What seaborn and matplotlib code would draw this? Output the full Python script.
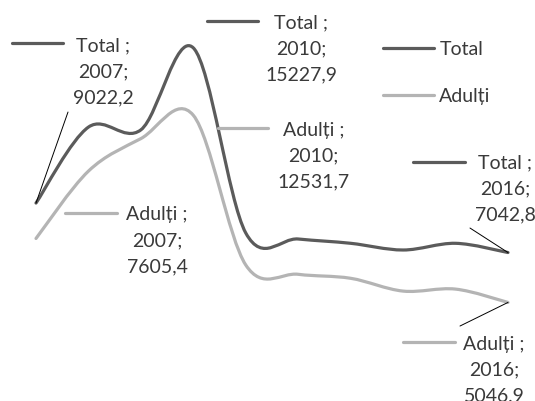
import matplotlib
matplotlib.use("Agg")
import matplotlib.pyplot as plt
from matplotlib.path import Path
from matplotlib.patches import PathPatch
from matplotlib.lines import Line2D
from matplotlib.transforms import IdentityTransform
import seaborn as sns

# data
years = [2007, 2008, 2009, 2010, 2011, 2012, 2013, 2014, 2015, 2016]
total = [9022.2, 12060, 11950, 15227.9, 7824, 7584, 7412, 7144, 7412, 7042.8]
adulti = [7605.4, 10300, 11600, 12531.7, 6544, 6172, 6012, 5500, 5580, 5046.9]
series_names = ['Total', 'Adulți']

# labels shown on the chart: (series, year index, text)
point_labels = [
    ('Total', 0, ['Total ;', '2007;', '9022,2']),
    ('Total', 3, ['Total ;', '2010;', '15227,9']),
    ('Adulți', 3, ['Adulți ;', '2010;', '12531,7']),
    ('Adulți', 0, ['Adulți ;', '2007;', '7605,4']),
    ('Total', 9, ['Total ;', '2016;', '7042,8']),
    ('Adulți', 9, ['Adulți ;', '2016;', '5046,9']),
]

sns.set_theme(style="white")
plt.rcParams['font.family'] = ['Lato', 'DejaVu Sans']

colors = {'Total': '#5b5b5b', 'Adulți': '#b4b4b4'}
text_color = '#3a3a3a'
values = {'Total': total, 'Adulți': adulti}
FS = 14


def smooth_path(xs, ys):
    """Bezier path through the points, like a spreadsheet 'smoothed line'"""
    pts = list(zip(xs, ys))
    verts = [pts[0]]
    codes = [Path.MOVETO]
    n = len(pts)
    for i in range(n - 1):
        p0 = pts[i - 1] if i > 0 else pts[i]
        p1 = pts[i]
        p2 = pts[i + 1]
        p3 = pts[i + 2] if i + 2 < n else pts[i + 1]
        c1 = (p1[0] + (p2[0] - p0[0]) / 6, p1[1] + (p2[1] - p0[1]) / 6)
        c2 = (p2[0] - (p3[0] - p1[0]) / 6, p2[1] - (p3[1] - p1[1]) / 6)
        verts += [c1, c2, p2]
        codes += [Path.CURVE4] * 3
    return Path(verts, codes)


fig = plt.figure(figsize=(5.35, 4.01), dpi=100)
ax = fig.add_axes([0, 0, 1, 1])
ax.set_xlim(2006.3135, 2016.515)
ax.set_ylim(1104, 17144)
ax.axis('off')

for name in series_names:
    patch = PathPatch(smooth_path(years, values[name]), fill=False,
                      edgecolor=colors[name], lw=2.3,
                      capstyle='round', joinstyle='round', zorder=3)
    ax.add_patch(patch)

# label layout in pixels relative to the point:
# middle line centre, key line x-range and y, optional leader start
layout = [
    dict(mid=(67, 131), key=(-24, 27, 160), lead=(32, 91)),
    dict(mid=(108, -1), key=(14, 65, 27), lead=None),
    dict(mid=(120, -41), key=(25, 75, -13), lead=None),
    dict(mid=(121, -2.5), key=(29, 81, 25.5), lead=None),
    dict(mid=(-3, 63.5), key=(-95, -43, 90.5), lead=(-38, 24.5)),
    dict(mid=(-14, -67.6), key=(-105, -53, -39.6), lead=(-48, -23.6)),
]
line_step = 26
ident = IdentityTransform()

for (name, idx, lines), lay in zip(point_labels, layout):
    px, py = ax.transData.transform((years[idx], values[name][idx]))
    mx, my = lay['mid']
    for k, txt in enumerate(lines):
        fig.text(px + mx, py + my + (1 - k) * line_step, txt, transform=ident,
                 ha='center', va='center', fontsize=FS, color=text_color)
    k0, k1, ky = lay['key']
    fig.add_artist(Line2D([px + k0, px + k1], [py + ky, py + ky], transform=ident,
                          color=colors[name], lw=2.3))
    if lay['lead'] is not None:
        lx, ly = lay['lead']
        fig.add_artist(Line2D([px + lx, px], [py + ly, py], transform=ident,
                              color='black', lw=0.7))

handles = [Line2D([], [], color=colors[n], lw=2.3) for n in series_names]
leg = ax.legend(handles, series_names, loc='upper left',
                bbox_to_anchor=(383 / 535, 1 - 41 / 401), frameon=False,
                handlelength=2.6, handletextpad=0.3, labelspacing=1.55,
                borderpad=0, borderaxespad=0, fontsize=FS)
for t in leg.get_texts():
    t.set_color(text_color)

fig.savefig('out.png', dpi=100)
